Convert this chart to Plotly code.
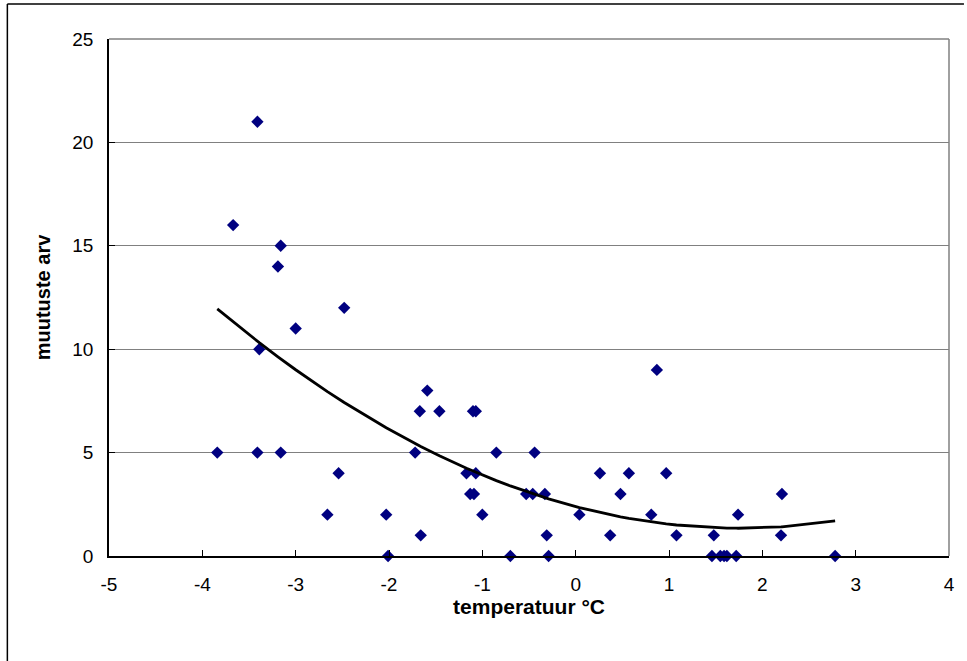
import numpy as np
import plotly.graph_objects as go

temperature = [-3.84, -3.67, -3.41, -3.39, -3.41, -3.19, -3.16, -3.16, -3.00, -2.48,
               -2.54, -2.66, -2.03, -2.01, -1.66, -1.67, -1.72, -1.59, -1.46, -1.17,
               -1.13, -1.09, -1.10, -1.07, -1.07, -1.00, -0.85, -0.70, -0.53, -0.46,
               -0.44, -0.33, -0.31, -0.29, 0.04, 0.26, 0.37, 0.48, 0.57, 0.81,
               0.87, 0.97, 1.08, 1.46, 1.48, 1.55, 1.59, 1.62, 1.72, 1.74,
               2.20, 2.21, 2.78]
counts = [5, 16, 21, 10, 5, 14, 15, 5, 11, 12,
          4, 2, 2, 0, 1, 7, 5, 8, 7, 4,
          3, 3, 7, 7, 4, 2, 5, 0, 3, 3,
          5, 3, 1, 0, 2, 4, 1, 3, 4, 2,
          9, 4, 1, 0, 1, 0, 0, 0, 0, 2,
          1, 3, 0]

x_ticks = [-5, -4, -3, -2, -1, 0, 1, 2, 3, 4]
x_tick_labels = ["-5", "-4", "-3", "-2", "-1", "0", "1", "2", "3", "4"]
y_ticks = [0, 5, 10, 15, 20, 25]
y_tick_labels = ["0", "5", "10", "15", "20", "25"]

# quadratic trend line evaluated at the observed temperatures
coef = np.polyfit(temperature, counts, 2)
trend_x = np.sort(np.unique(temperature))
trend_y = np.polyval(coef, trend_x)

fig = go.Figure()
fig.add_trace(go.Scatter(
    x=temperature, y=counts, mode="markers",
    marker=dict(symbol="diamond", size=9.5, color="#000080", line=dict(width=0)),
    showlegend=False, cliponaxis=False))
fig.add_trace(go.Scatter(
    x=trend_x, y=trend_y, mode="lines",
    line=dict(color="black", width=2.8),
    showlegend=False))

font = "Liberation Sans, Arial, sans-serif"
L, R, T, B = 109, 15, 39, 105
W, H = 967 - L - R, 661 - T - B
fig.update_layout(
    width=967, height=661,
    margin=dict(l=L, r=R, t=T, b=B),
    paper_bgcolor="white", plot_bgcolor="white",
    font=dict(family=font, size=19, color="black"),
    xaxis=dict(range=[-5, 4], tickvals=x_ticks, ticktext=x_tick_labels,
               ticks="inside", ticklen=6, ticklabelstandoff=10,
               tickcolor="black", showgrid=False, zeroline=False,
               showline=True, linecolor="black", linewidth=1.5,
               mirror=False, tickfont=dict(size=19),
               title=dict(text="<b>temperatuur °C</b>", font=dict(size=21), standoff=0)),
    yaxis=dict(range=[0, 25], tickvals=y_ticks, ticktext=y_tick_labels,
               ticks="inside", ticklen=6, ticklabelstandoff=10,
               tickcolor="black", showgrid=True, gridcolor="#808080", gridwidth=1,
               zeroline=False, showline=True, linecolor="black", linewidth=1.5,
               tickfont=dict(size=19),
               title=dict(text="<b>muutuste arv</b>", font=dict(size=20), standoff=16)),
    shapes=[
        dict(type="line", xref="paper", yref="paper", x0=0, x1=1, y0=1, y1=1,
             line=dict(color="#808080", width=1.5)),
        dict(type="line", xref="paper", yref="paper", x0=1, x1=1, y0=0, y1=1,
             line=dict(color="#808080", width=1.5)),
        dict(type="line", xref="paper", yref="paper",
             x0=(7 - L) / W, x1=(967 - L) / W, y0=(661 - 4 - B) / H, y1=(661 - 4 - B) / H,
             line=dict(color="black", width=1.5)),
        dict(type="line", xref="paper", yref="paper",
             x0=(7 - L) / W, x1=(7 - L) / W, y0=(661 - 4 - B) / H, y1=-B / H,
             line=dict(color="black", width=1.5)),
    ],
)

fig.write_html("out.html")
